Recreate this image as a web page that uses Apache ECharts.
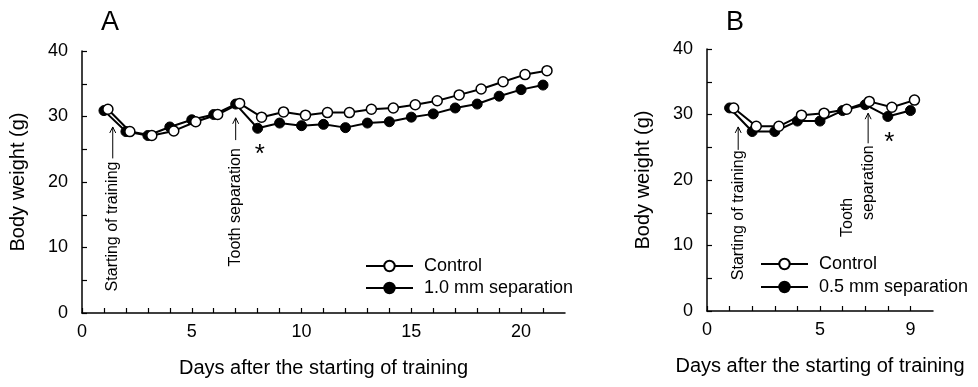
<!DOCTYPE html>
<html>
<head>
<meta charset="utf-8">
<script src="https://cdn.jsdelivr.net/npm/echarts@6/dist/echarts.min.js"></script>
<style>html,body{margin:0;padding:0;background:#fff}#c{width:978px;height:387px}</style>
</head>
<body>
<div id="c"></div>
<script>
// ---- data ----
const daysA = [1,2,3,4,5,6,7,8,9,10,11,12,13,14,15,16,17,18,19,20,21];
const controlA = [31.1,27.7,27.1,27.8,29.2,30.3,32.0,29.9,30.7,30.2,30.6,30.6,31.1,31.3,31.8,32.4,33.3,34.2,35.3,36.4,37.0];
const sep10A   = [30.9,27.7,27.1,28.4,29.5,30.3,31.9,28.2,29.0,28.6,28.8,28.3,29.0,29.2,29.9,30.4,31.3,31.9,33.1,34.1,34.8];
const daysB = [1,2,3,4,5,6,7,8,9];
const controlB = [31.0,28.2,28.2,29.9,30.2,30.8,32.0,31.1,32.2];
const sep05B   = [31.0,27.4,27.4,29.0,29.0,30.6,31.5,29.7,30.6];
const xLabelsA = [0,5,10,15,20];
const xLabelsB = [0,5,9];
const yLabels = [0,10,20,30,40];
const namesA = ['Control','1.0 mm separation'];
const namesB = ['Control','0.5 mm separation'];

const FONT = '"Liberation Sans", Arial, Helvetica, sans-serif';
const DODGE = 0.18; // small horizontal offset of open circles, as in the figure

const chart = echarts.init(document.getElementById('c'), null, {renderer:'canvas'});

function xAxisFor(gi, max, ticks, labels){
  return {
    type:'value', gridIndex:gi, min:0, max:max, interval:1,
    name:'Days after the starting of training', nameLocation:'middle', nameGap:45,
    nameTextStyle:{fontFamily:FONT, fontSize:20, color:'#000'},
    axisLine:{lineStyle:{color:'#000', width:1.5}},
    axisTick:{inside:true, length:5, lineStyle:{color:'#000', width:1.2}, customValues:ticks},
    axisLabel:{fontFamily:FONT, fontSize:18, color:'#000', margin:10, customValues:labels},
    splitLine:{show:false}
  };
}
function yAxisFor(gi){
  return {
    type:'value', gridIndex:gi, min:0, max:40, interval:5,
    name:'Body weight (g)', nameLocation:'middle', nameGap:54, nameRotate:90,
    nameTextStyle:{fontFamily:FONT, fontSize:20, color:'#000'},
    axisLine:{show:true, lineStyle:{color:'#000', width:1.5}},
    axisTick:{show:true, inside:true, length:5, lineStyle:{color:'#000', width:1.2}},
    axisLabel:{fontFamily:FONT, fontSize:18, color:'#000', margin:14,
      formatter:v => yLabels.indexOf(v) >= 0 ? String(v) : ''},
    splitLine:{show:false}
  };
}
function lineSeries(name, xi, xs, ys, open, dx){
  return {
    type:'line', name:name, xAxisIndex:xi, yAxisIndex:xi,
    data: xs.map((d,i)=>[d+dx, ys[i]]),
    symbol:'circle', symbolSize:10, showSymbol:true,
    lineStyle:{color:'#000', width:2},
    itemStyle: open ? {color:'#fff', borderColor:'#000', borderWidth:1.5}
                    : {color:'#000', borderColor:'#000', borderWidth:1},
    z: open ? 3 : 2, animation:false, silent:true
  };
}
function ticksUpTo(n){ const a=[]; for(let i=0;i<=n;i++) a.push(i); return a; }

chart.setOption({
  animation:false,
  backgroundColor:'#fff',
  title:[
    {text:'A', left:96, top:4, textStyle:{fontFamily:FONT, fontSize:27, fontWeight:'normal', color:'#000'}},
    {text:'B', left:721, top:4, textStyle:{fontFamily:FONT, fontSize:27, fontWeight:'normal', color:'#000'}}
  ],
  grid:[
    {left:82, top:51, width:483, height:262},
    {left:707, top:49, width:226, height:262}
  ],
  xAxis:[ xAxisFor(0, 22, ticksUpTo(21), xLabelsA), xAxisFor(1, 10, ticksUpTo(9), xLabelsB) ],
  yAxis:[ yAxisFor(0), yAxisFor(1) ],
  legend:[
    {data:namesA, orient:'vertical', left:360, top:252, itemWidth:47, itemHeight:13, itemGap:4,
     textStyle:{fontFamily:FONT, fontSize:18, color:'#000', padding:[0,0,0,6]}, selectedMode:false},
    {data:namesB, orient:'vertical', left:755, top:250, itemWidth:47, itemHeight:13, itemGap:5,
     textStyle:{fontFamily:FONT, fontSize:18, color:'#000', padding:[0,0,0,6]}, selectedMode:false}
  ],
  series:[
    lineSeries(namesA[1], 0, daysA, sep10A, false, 0),
    lineSeries(namesA[0], 0, daysA, controlA, true, DODGE),
    lineSeries(namesB[1], 1, daysB, sep05B, false, 0),
    lineSeries(namesB[0], 1, daysB, controlB, true, DODGE)
  ]
});

// ---- annotations placed through the axes ----
function px(gi, x, y){ return chart.convertToPixel({gridIndex:gi}, [x, y]); }
const els = [];
function vText(gi, x, y, text){
  const p = px(gi, x, y);
  els.push({type:'text', x:p[0], y:p[1], rotation:Math.PI/2,
    style:{text:text, fontFamily:FONT, fontSize:16, fill:'#000', align:'left', verticalAlign:'middle'}});
}
function vArrow(gi, x, y0, y1){
  const a = px(gi, x, y0), b = px(gi, x, y1);
  els.push({type:'line', shape:{x1:a[0], y1:a[1], x2:b[0], y2:b[1]}, style:{stroke:'#000', lineWidth:1}});
  els.push({type:'polyline', shape:{points:[[b[0]-3, b[1]+6],[b[0], b[1]],[b[0]+3, b[1]+6]]}, style:{stroke:'#000', lineWidth:1, fill:null}});
}
function star(gi, x, y){
  const p = px(gi, x, y);
  els.push({type:'text', x:p[0], y:p[1],
    style:{text:'*', fontFamily:FONT, fontSize:26, fill:'#000', align:'center', verticalAlign:'middle'}});
}
// Panel A
vText(0, 1.4, 3.3, 'Starting of training');
vArrow(0, 1.4, 23.6, 28.4);
vText(0, 7.0, 7.1, 'Tooth separation');
vArrow(0, 7.0, 26.4, 29.8);
star(0, 8.1, 24.2);
// Panel B
vText(1, 1.38, 4.7, 'Starting of training');
vArrow(1, 1.38, 24.6, 28.1);
vText(1, 6.2, 11.3, 'Tooth');
vText(1, 7.13, 13.9, 'separation');
vArrow(1, 7.13, 25.6, 30.2);
star(1, 8.07, 25.6);

chart.setOption({graphic:{elements:els}});
</script>
</body>
</html>
